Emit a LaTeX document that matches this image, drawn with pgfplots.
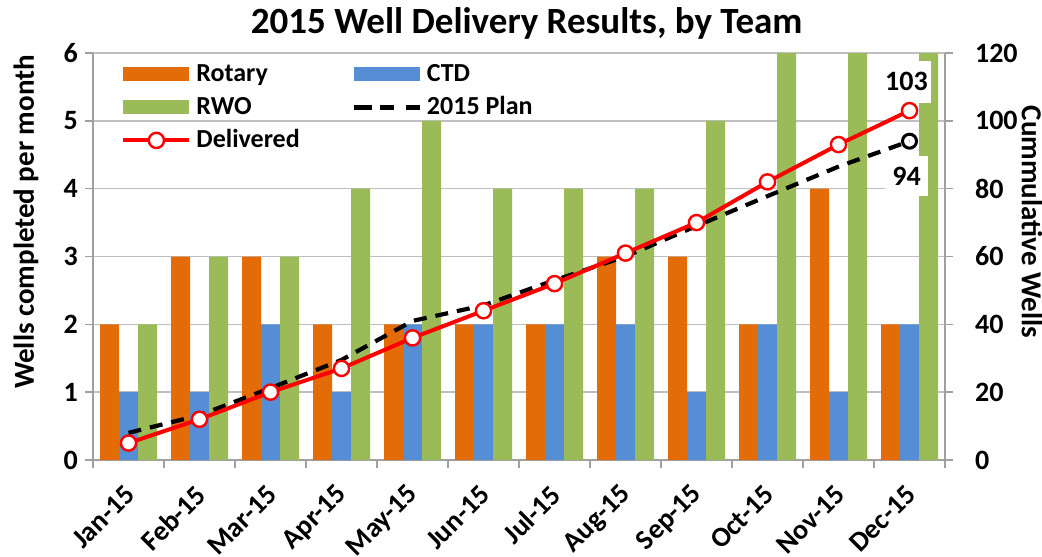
\documentclass[border=0pt]{standalone}
\usepackage{pgfplots}
\pgfplotsset{compat=1.18}
\usepackage{fontspec}
\setmainfont{Carlito}
\definecolor{rot}{RGB}{227,108,9}
\definecolor{ctd}{RGB}{85,142,213}
\definecolor{rwo}{RGB}{155,187,89}
\definecolor{gridc}{RGB}{191,191,191}
\definecolor{axc}{RGB}{160,160,160}
\pgfplotsset{
 barlegend/.style={legend image code/.code={\fill[##1] (0pt,-3.5pt) rectangle (33pt,3.5pt);}},
 linelegend/.style={legend image code/.code={\draw[##1, mark=none] (0pt,0pt) -- (33pt,0pt); \draw[##1, overlay] plot coordinates {(16.5pt,0pt)};}},
 common/.style={scale only axis, width=426pt, height=203.5pt, xmin=0.5, xmax=12.5,
   tick align=outside,
   ticklabel style={font=\bfseries\fontsize{14}{14}\selectfont},
   /pgf/number format/assume math mode=true,
   label style={font=\bfseries\fontsize{14.5}{15}\selectfont},
   major tick length=4pt, minor tick length=4pt,
   axis line style={axc, line width=0.8pt},
   tick style={axc, line width=0.8pt},
 },
}
\begin{document}
\begin{tikzpicture}
\begin{axis}[common,
 ymin=0, ymax=6, ytick={0,...,6},
 axis x line*=bottom, axis y line*=left,
 ymajorgrids, grid style={gridc, line width=0.8pt},
 xtick={1,...,12},
 xticklabels={Jan-15,Feb-15,Mar-15,Apr-15,May-15,Jun-15,Jul-15,Aug-15,Sep-15,Oct-15,Nov-15,Dec-15},
 major x tick style={draw=none},
 minor xtick={0.5,1.5,...,12.5},
 xticklabel style={rotate=45, anchor=east, inner sep=0pt, xshift=0.6pt, yshift=-0.6pt},
 xticklabel shift=11pt,
 ylabel={Wells completed per month},
 ylabel style={at={(axis description cs:-0.0786,0.585)}, anchor=center},
 title={2015 Well Delivery Results, by Team},
 title style={at={(axis description cs:0.509,1.044)}, anchor=center, font=\bfseries\fontsize{18.5}{19}\selectfont},
 ybar=0pt, bar width=9.5pt,
 legend columns=2,
 legend cell align=left,
 legend style={at={(rel axis cs:0,1)}, anchor=north west, xshift=14pt, yshift=-2.5pt,
   draw=none, fill=none, inner sep=0pt, row sep=0.5pt,
   nodes={text height=10pt, text depth=3pt, inner ysep=1.5pt},
   font=\bfseries\fontsize{13}{13}\selectfont,
   /tikz/every odd column/.append style={column sep=0.5pt},
   /tikz/every even column/.append style={column sep=24pt}},
]
\coordinate (O) at (rel axis cs:0,0);
\addplot[fill=rot, draw=none, barlegend] coordinates {(1,2)(2,3)(3,3)(4,2)(5,2)(6,2)(7,2)(8,3)(9,3)(10,2)(11,4)(12,2)};
\addlegendentry{Rotary}
\addplot[fill=ctd, draw=none, barlegend] coordinates {(1,1)(2,1)(3,2)(4,1)(5,2)(6,2)(7,2)(8,2)(9,1)(10,2)(11,1)(12,2)};
\addlegendentry{CTD}
\addplot[fill=rwo, draw=none, barlegend] coordinates {(1,2)(2,3)(3,3)(4,4)(5,5)(6,4)(7,4)(8,4)(9,5)(10,8)(11,6)(12,6)};
\addlegendentry{RWO}
\addlegendimage{linelegend, black, line width=2.1pt, dash pattern=on 7pt off 6pt}
\addlegendentry{2015 Plan}
\addlegendimage{linelegend, red, solid, line width=2pt, mark=*, mark size=3.8pt, mark options={fill=white, draw=red, line width=1.2pt, solid}}
\addlegendentry{Delivered}
\end{axis}
\begin{axis}[common,
 ymin=0, ymax=120, ytick={0,20,...,120},
 axis x line=none, axis y line*=right,
 yticklabel style={xshift=7.5pt},
 ylabel={Cummulative Wells},
 ylabel style={at={(axis description cs:1.102,0.585)}, anchor=center, rotate=180},
]
\addplot[black, line width=2.1pt, dash pattern=on 6.5pt off 4.5pt, mark=o, mark indices={12}, mark size=3.5pt, mark options={solid, line width=1.5pt}] coordinates {(1,8)(2,13.2)(3,21.2)(4,29.5)(5,41)(6,45.6)(7,53)(8,60)(9,69)(10,77.8)(11,86.5)(12,94)};
\addplot[red, line width=2pt, mark=*, mark size=3.8pt, mark options={fill=white, draw=red, line width=1.2pt}] coordinates {(1,5)(2,12)(3,20)(4,27)(5,36)(6,44)(7,52)(8,61)(9,70)(10,82)(11,93)(12,103)};
\node[fill=white, minimum width=24pt, minimum height=21pt, inner sep=0pt, font=\bfseries\fontsize{14}{14}\selectfont] at (axis cs:12,103) [xshift=-1.5pt, yshift=14.5pt] {103};
\node[fill=white, minimum width=21.5pt, minimum height=20pt, inner sep=0pt, font=\bfseries\fontsize{14}{14}\selectfont] at (axis cs:12,94) [xshift=-1.5pt, yshift=-17.5pt] {94};
\end{axis}
\pgfresetboundingbox
\useasboundingbox ([xshift=-46.5pt,yshift=-48pt]O) rectangle ([xshift=474.5pt,yshift=230pt]O);
\end{tikzpicture}
\end{document}
